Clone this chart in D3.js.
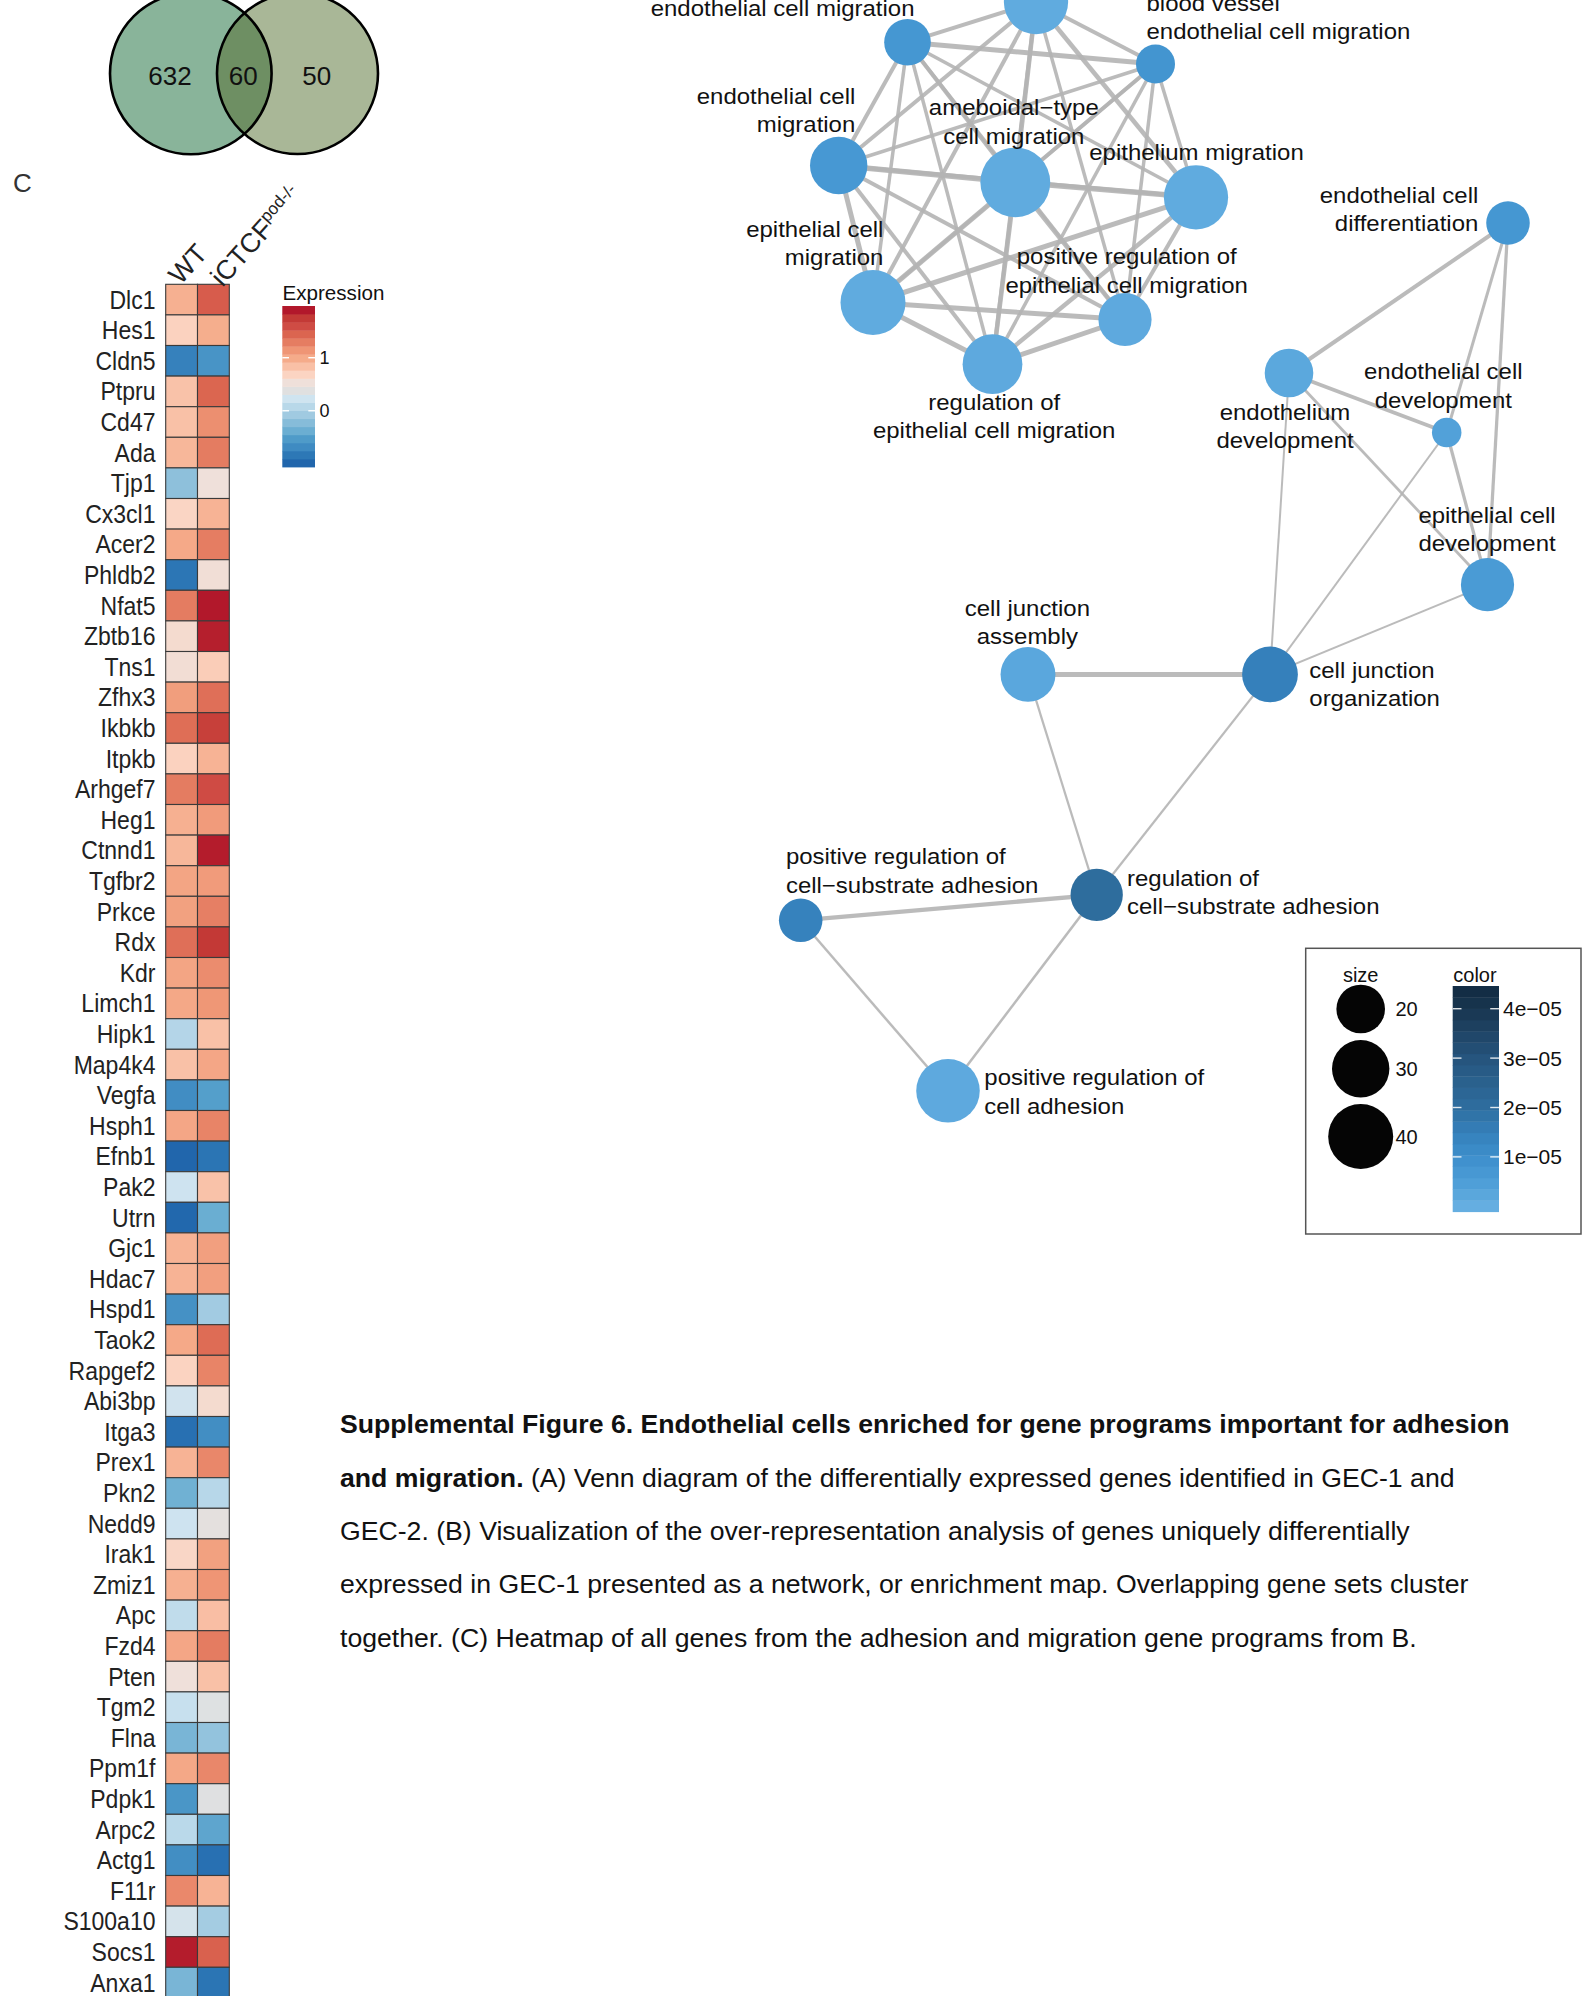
<!DOCTYPE html>
<html>
<head>
<meta charset="utf-8">
<script src="https://cdn.jsdelivr.net/npm/d3@7"></script>
<style>
  body { margin: 0; background: #fff; }
  svg { display: block; }
  text { font-family: "Liberation Sans", Arial, Helvetica, sans-serif; }
</style>
</head>
<body>
<svg id="fig" width="1583" height="1996"></svg>
<script>
// ---------------- Panel A: Venn diagram counts ----------------
const vennSets = ["GEC-1", "GEC-2"];
const vennCounts = [632, 60, 50];          // GEC-1 only, shared, GEC-2 only
const vennFills = ["#89b49a", "#6e8f63", "#a9b797"];

// ---------------- Panel C: heatmap ----------------
const genes = ["Dlc1","Hes1","Cldn5","Ptpru","Cd47","Ada","Tjp1","Cx3cl1","Acer2","Phldb2",
  "Nfat5","Zbtb16","Tns1","Zfhx3","Ikbkb","Itpkb","Arhgef7","Heg1","Ctnnd1","Tgfbr2",
  "Prkce","Rdx","Kdr","Limch1","Hipk1","Map4k4","Vegfa","Hsph1","Efnb1","Pak2",
  "Utrn","Gjc1","Hdac7","Hspd1","Taok2","Rapgef2","Abi3bp","Itga3","Prex1","Pkn2",
  "Nedd9","Irak1","Zmiz1","Apc","Fzd4","Pten","Tgm2","Flna","Ppm1f","Pdpk1",
  "Arpc2","Actg1","F11r","S100a10","Socs1","Anxa1"];
const exprWT = [0.95,0.70,-0.76,0.82,0.83,0.90,-0.18,0.67,1.00,-0.85,
  1.30,0.60,0.57,1.08,1.39,0.70,1.30,0.95,0.90,1.03,
  1.06,1.38,1.03,1.01,0.05,0.83,-0.66,1.02,-1.00,0.22,
  -0.97,0.93,0.93,-0.62,1.00,0.69,0.25,-0.90,0.93,-0.35,
  0.22,0.66,0.95,0.13,1.02,0.53,0.18,-0.30,1.01,-0.58,
  0.09,-0.65,1.22,0.28,1.88,-0.30];
const exprKO = [1.50,0.97,-0.60,1.44,1.18,1.30,0.53,0.93,1.29,0.56,
  1.92,1.87,0.74,1.38,1.70,0.93,1.60,1.10,1.88,1.10,
  1.28,1.75,1.20,1.13,0.83,1.02,-0.50,1.25,-0.86,0.82,
  -0.38,1.07,1.07,-0.06,1.40,1.25,0.60,-0.65,1.23,0.07,
  0.42,1.06,1.14,0.85,1.30,0.83,0.36,-0.15,1.23,0.37,
  -0.45,-0.90,0.93,-0.05,1.47,-0.86];
const conditions = ["WT", "iCTCF"];
const conditionSup = ["", "pod-/-"];
const exprLimits = [-1.06, 1.975];
const exprTicks = [0, 1];
const exprPalette = ["#2166ac","#2d78b6","#3f8bc2","#4f9bc9","#6baed2","#86bcd9","#a0cae1",
  "#b8d8e9","#cfe4f0","#e0e0e0","#efe0da","#fbd4c2","#f9c0a6","#f5ab8a","#ef9575",
  "#e57d62","#db6550","#cf4c44","#c33a36","#b2182b"];

// ---------------- Panel B: enrichment map ----------------
const termNames = [
  "",
  "endothelial cell migration",
  "blood vessel\nendothelial cell migration",
  "endothelial cell\nmigration",
  "ameboidal\u2212type\ncell migration",
  "epithelium migration",
  "epithelial cell\nmigration",
  "positive regulation of\nepithelial cell migration",
  "regulation of\nepithelial cell migration",
  "endothelial cell\ndifferentiation",
  "endothelium\ndevelopment",
  "endothelial cell\ndevelopment",
  "epithelial cell\ndevelopment",
  "cell junction\nassembly",
  "cell junction\norganization",
  "regulation of\ncell\u2212substrate adhesion",
  "positive regulation of\ncell\u2212substrate adhesion",
  "positive regulation of\ncell adhesion"];
const termLayoutX = [2.36,1.075,3.555,0.387,2.153,3.96,0.73,3.25,1.925,7.08,4.89,6.467,6.875,2.28,4.70,2.967,0.007,1.48];
const termLayoutY = [-0.02,-0.423,-0.64,-1.655,-1.823,-1.973,-3.025,-3.195,-3.642,-2.23,-3.73,-4.325,-5.847,-6.744,-6.744,-8.948,-9.203,-10.908];
const termSize = [39,18,11,30,47,39,40,25,33,15,20,4,25,27,28,24,15,38];
const termPadj = [0.1e-5,0.75e-5,0.8e-5,0.7e-5,0.1e-5,0.1e-5,0.1e-5,0.15e-5,0.15e-5,0.75e-5,
  0.2e-5,0.4e-5,0.6e-5,0.22e-5,1.5e-5,2.05e-5,1.45e-5,0.15e-5];
const edgeFrom = [0,0,0,0,0,0,0,0, 1,1,1,1,1,1,1, 2,2,2,2,2,2, 3,3,3,3,3, 4,4,4,4, 5,5,5, 6,6, 7,
  9,9,9,10,10,10,11,11,12,13,13,14,15,16,15];
const edgeTo   = [1,2,3,4,5,6,7,8, 2,3,4,5,6,7,8, 3,4,5,6,7,8, 4,5,6,7,8, 5,6,7,8, 6,7,8, 7,8, 8,
  10,11,12,11,12,14,12,14,14,14,15,15,16,17,17];
const edgeSim  = [.5,.5,.5,.6,.6,.5,.4,.5, .7,.5,.5,.4,.4,.4,.4, .4,.5,.4,.4,.4,.4, .8,.5,.7,.5,.5, .8,.7,.6,.6, .7,.5,.6, .7,.7, .7,
  .5,.3,.35,.5,.25,.1,.35,.1,.1,.7,.15,.15,.55,.2,.2];
const sizeLegendValues = [20, 30, 40];
const padjTicks = [1e-5, 2e-5, 3e-5, 4e-5];
const padjBarRange = [-0.11e-5, 4.46e-5];
const padjStops = [0, 0.5e-5, 1e-5, 1.5e-5, 2e-5, 3e-5, 4e-5, 4.46e-5];
const padjColors = ["#65aee1","#4d9ed7","#3d8fcc","#3580bb","#2e6e9f","#26547d","#183650","#122a42"];

// label placement of each term relative to its node: [dx, dy, anchor]
const labelPlacement = [[0,-50,"middle"],[7,-26,"end"],[-9,-53.5,"start"],[16.6,-62,"end"],
  [-1.5,-67,"middle"],[0.5,-37.3,"middle"],[10.4,-65.5,"end"],[1.7,-55.2,"middle"],
  [1.7,45.6,"middle"],[-29.7,-20.3,"end"],[-4,47,"middle"],[-3.4,-53.2,"middle"],
  [-0.5,-62,"middle"],[-0.6,-58.9,"middle"],[39.3,3.6,"start"],[30.3,-9.1,"start"],
  [-14.8,-56.1,"start"],[36.3,-5.5,"start"]];

// column-name anchor offsets from the column centre (text rotated about its start)
const colLabelShift = [[-1, 1.5], [9, 3.5]];

const svg = d3.select("#fig");
svg.append("rect").attr("width", 1583).attr("height", 1996).attr("fill", "#fff");

// ================= Venn =================
(function drawVenn() {
  const g = svg.append("g");
  const circles = [{cx: 190.8, cy: 73.5, r: 80.8}, {cx: 297.5, cy: 73.5, r: 80.5}];
  const defs = svg.append("defs");
  defs.append("clipPath").attr("id", "vennClipL")
    .append("circle").attr("cx", circles[0].cx).attr("cy", circles[0].cy).attr("r", circles[0].r);
  g.append("circle").attr("cx", circles[0].cx).attr("cy", circles[0].cy).attr("r", circles[0].r)
    .attr("fill", vennFills[0]);
  g.append("circle").attr("cx", circles[1].cx).attr("cy", circles[1].cy).attr("r", circles[1].r)
    .attr("fill", vennFills[2]);
  g.append("circle").attr("cx", circles[1].cx).attr("cy", circles[1].cy).attr("r", circles[1].r)
    .attr("fill", vennFills[1]).attr("clip-path", "url(#vennClipL)");
  g.selectAll("circle.outline").data(circles).join("circle").attr("class", "outline")
    .attr("cx", d => d.cx).attr("cy", d => d.cy).attr("r", d => d.r)
    .attr("fill", "none").attr("stroke", "#000").attr("stroke-width", 2.6);
  const labelX = [170, 243.3, 316.7];
  g.selectAll("text").data(vennCounts).join("text")
    .attr("x", (d, i) => labelX[i]).attr("y", 84.5)
    .attr("text-anchor", "middle").attr("font-size", 26).attr("fill", "#111")
    .text(d => d);
})();

// ================= Heatmap =================
(function drawHeatmap() {
  svg.append("text").attr("x", 13).attr("y", 192).attr("font-size", 26).attr("fill", "#333").text("C");

  const top = 284.3, rowH = 30.6, left = 165.7, colW = 31.8;
  const y = d3.scaleBand().domain(genes).range([top, top + rowH * genes.length]);
  const x = d3.scaleBand().domain(conditions).range([left, left + colW * 2]);
  const n = exprPalette.length;
  const step = (exprLimits[1] - exprLimits[0]) / n;
  const centers = d3.range(n).map(i => exprLimits[0] + (i + 0.5) * step);
  const color = d3.scaleLinear().domain(centers).range(exprPalette).clamp(true);

  const cells = [];
  genes.forEach((gname, i) => {
    cells.push({gene: gname, cond: conditions[0], v: exprWT[i]});
    cells.push({gene: gname, cond: conditions[1], v: exprKO[i]});
  });
  const g = svg.append("g");
  g.selectAll("rect").data(cells).join("rect")
    .attr("x", d => x(d.cond)).attr("y", d => y(d.gene))
    .attr("width", x.bandwidth()).attr("height", y.bandwidth())
    .attr("fill", d => color(d.v)).attr("stroke", "#3a3a3a").attr("stroke-width", 1.1);

  // row names
  g.selectAll("text.row").data(genes).join("text").attr("class", "row")
    .attr("transform", d => `translate(155.5,${y(d) + y.bandwidth() / 2 + 9}) scale(0.92,1)`)
    .attr("text-anchor", "end").attr("font-size", 25).attr("fill", "#222").text(d => d);

  // column names, rotated
  const cl = g.selectAll("text.col").data(conditions).join("text").attr("class", "col")
    .attr("transform", (d, i) =>
      `translate(${x(d) + x.bandwidth() / 2 + colLabelShift[i][0]},${top + colLabelShift[i][1]}) rotate(-48)`)
    .attr("font-size", 27).attr("fill", "#222");
  cl.append("tspan").text(d => d);
  cl.append("tspan").attr("font-size", 17).attr("dy", -10)
    .text((d, i) => conditionSup[i]);

  // colour key
  const lg = svg.append("g");
  const ky = d3.scaleLinear().domain(exprLimits).range([467, 306]);
  lg.append("text").attr("x", 282.5).attr("y", 299.5).attr("font-size", 20.6).attr("fill", "#111").text("Expression");
  lg.selectAll("rect").data(centers).join("rect")
    .attr("x", 282.3).attr("width", 32.7)
    .attr("y", d => ky(d + step / 2)).attr("height", ky(0) - ky(step) + 0.4)
    .attr("fill", d => color(d));
  exprTicks.forEach(t => {
    lg.append("line").attr("x1", 282.3).attr("x2", 289).attr("y1", ky(t)).attr("y2", ky(t))
      .attr("stroke", "#fff").attr("stroke-width", 1.4);
    lg.append("line").attr("x1", 308.3).attr("x2", 315).attr("y1", ky(t)).attr("y2", ky(t))
      .attr("stroke", "#fff").attr("stroke-width", 1.4);
    lg.append("text").attr("x", 319.5).attr("y", ky(t)).attr("dy", "0.36em")
      .attr("font-size", 18).attr("fill", "#111").text(t);
  });
})();

// ================= Enrichment map =================
(function drawNetwork() {
  const sx = d3.scaleLinear().domain([0, 1]).range([800, 900]);
  const sy = d3.scaleLinear().domain([0, -1]).range([0, 100]);
  const rScale = d3.scaleRadial().domain([20, 40]).range([24.3, 32.5]);
  const cScale = d3.scaleLinear().domain(padjStops).range(padjColors).clamp(true);
  const wScale = d3.scaleLinear().domain([0, 1]).range([1.5, 6.5]);

  const nodes = termNames.map((name, i) => ({
    name, x: sx(termLayoutX[i]), y: sy(termLayoutY[i]), size: termSize[i], p: termPadj[i], i
  }));
  const edges = edgeFrom.map((s, k) => ({s: nodes[s], t: nodes[edgeTo[k]], w: edgeSim[k]}));

  const g = svg.append("g");
  g.selectAll("line").data(edges).join("line")
    .attr("x1", d => d.s.x).attr("y1", d => d.s.y).attr("x2", d => d.t.x).attr("y2", d => d.t.y)
    .attr("stroke", "#b4b4b4").attr("stroke-opacity", 0.9).attr("stroke-width", d => wScale(d.w));
  g.selectAll("circle").data(nodes).join("circle")
    .attr("cx", d => d.x).attr("cy", d => d.y).attr("r", d => rScale(d.size))
    .attr("fill", d => cScale(d.p));

  const lab = g.selectAll("text").data(nodes.filter(d => d.name)).join("text")
    .attr("transform", d => {
      const p = labelPlacement[d.i];
      return `translate(${d.x + p[0]},${d.y + p[1]}) scale(1.09,1)`;
    })
    .attr("text-anchor", d => labelPlacement[d.i][2])
    .attr("font-size", 22).attr("fill", "#111");
  lab.selectAll("tspan").data(d => d.name.split("\n")).join("tspan")
    .attr("x", 0).attr("dy", (d, i) => i === 0 ? 0 : 28.5).text(d => d);

  // legend
  const lg = svg.append("g");
  lg.append("rect").attr("x", 1305.7).attr("y", 948.3).attr("width", 275.3).attr("height", 285.7)
    .attr("fill", "#fff").attr("stroke", "#555").attr("stroke-width", 1.5);
  lg.append("text").attr("x", 1360.7).attr("y", 981.7).attr("text-anchor", "middle")
    .attr("font-size", 20).attr("fill", "#111").text("size");
  let cy = 984.7;
  const sizeKeys = sizeLegendValues.map(v => {
    const r = rScale(v);
    const c = cy + r;
    cy = c + r + 6.7;
    return {v, r, c};
  });
  lg.selectAll("circle").data(sizeKeys).join("circle")
    .attr("cx", 1360.7).attr("cy", d => d.c).attr("r", d => d.r).attr("fill", "#050505");
  lg.selectAll("text.sz").data(sizeKeys).join("text").attr("class", "sz")
    .attr("x", 1395.5).attr("y", d => d.c).attr("dy", "0.36em")
    .attr("font-size", 20).attr("fill", "#111").text(d => d.v);

  lg.append("text").attr("x", 1453.3).attr("y", 981.7).attr("font-size", 20).attr("fill", "#111").text("color");
  const by = d3.scaleLinear().domain(padjBarRange).range([1211.7, 986]);
  const nb = 20, bstep = (padjBarRange[1] - padjBarRange[0]) / nb;
  const bands = d3.range(nb).map(i => padjBarRange[0] + (i + 0.5) * bstep);
  lg.selectAll("rect.band").data(bands).join("rect").attr("class", "band")
    .attr("x", 1452.7).attr("width", 46.3)
    .attr("y", d => by(d + bstep / 2)).attr("height", by(0) - by(bstep) + 0.4)
    .attr("fill", d => cScale(d));
  const fmt = v => v.toExponential(0).replace("e-", "e\u22120");
  padjTicks.forEach(t => {
    lg.append("line").attr("x1", 1452.7).attr("x2", 1461.5).attr("y1", by(t)).attr("y2", by(t))
      .attr("stroke", "#fff").attr("stroke-opacity", 0.85).attr("stroke-width", 1.4);
    lg.append("line").attr("x1", 1490.2).attr("x2", 1499).attr("y1", by(t)).attr("y2", by(t))
      .attr("stroke", "#fff").attr("stroke-opacity", 0.85).attr("stroke-width", 1.4);
    lg.append("text").attr("x", 1503).attr("y", by(t)).attr("dy", "0.36em")
      .attr("font-size", 21).attr("fill", "#111").text(fmt(t));
  });
})();

// ================= Caption =================
(function drawCaption() {
  const lines = [
    [["Supplemental Figure 6. Endothelial cells enriched for gene programs important for adhesion", true]],
    [["and migration.", true], [" (A) Venn diagram of the differentially expressed genes identified in GEC-1 and", false]],
    [["GEC-2. (B) Visualization of the over-representation analysis of genes uniquely differentially", false]],
    [["expressed in GEC-1 presented as a network, or enrichment map. Overlapping gene sets cluster", false]],
    [["together. (C) Heatmap of all genes from the adhesion and migration gene programs from B.", false]]
  ];
  const g = svg.append("g");
  lines.forEach((segs, i) => {
    const t = g.append("text").attr("x", 340).attr("y", 1433.3 + i * 53.3)
      .attr("font-size", 26.65).attr("fill", "#111");
    segs.forEach(s => {
      t.append("tspan").attr("font-weight", s[1] ? "bold" : "normal").text(s[0]);
    });
  });
})();
</script>
</body>
</html>
